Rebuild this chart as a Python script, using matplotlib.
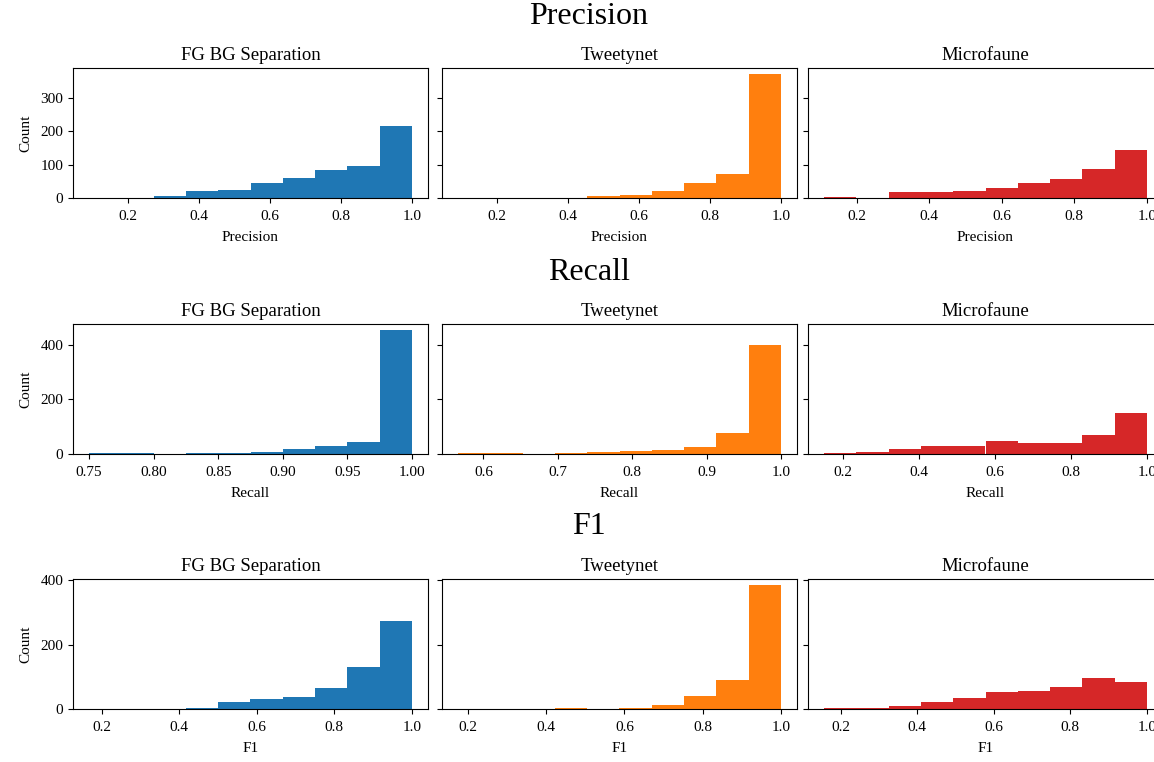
import numpy as np
import matplotlib
matplotlib.use("Agg")
import matplotlib.pyplot as plt

plt.rcParams['font.family'] = ['Liberation Serif', 'DejaVu Serif']

models = ["FG BG Separation", "Tweetynet", "Microfaune"]
colors = ["#1f77b4", "#ff7f0e", "#d62728"]
metrics = ["Precision", "Recall", "F1"]
xlabels = ["Precision", "Recall", "F1"]

# lowest observed value per model (histogram range is [low, 1.0], 10 bins)
precision_low = [0.09, 0.09, 0.11]
recall_low = [0.75, 0.566, 0.15]
f1_low = [0.168, 0.175, 0.157]

# counts per bin
precision_fgbg = [1, 0, 7, 21, 25, 46, 60, 84, 97, 215]
precision_tweety = [1, 0, 0, 0, 6, 10, 22, 46, 73, 371]
precision_micro = [4, 0, 18, 18, 22, 29, 46, 57, 86, 144]

recall_fgbg = [3, 3, 0, 3, 3, 7, 19, 29, 44, 453]
recall_tweety = [3, 3, 0, 3, 6, 10, 15, 24, 77, 400]
recall_micro = [3, 8, 18, 30, 30, 47, 39, 42, 68, 151]

f1_fgbg = [1, 0, 0, 4, 21, 30, 37, 66, 131, 275]
f1_tweety = [1, 0, 0, 4, 0, 4, 12, 40, 91, 385]
f1_micro = [3, 3, 8, 23, 33, 52, 55, 69, 97, 84]

lows = [precision_low, recall_low, f1_low]
counts = [
    [precision_fgbg, precision_tweety, precision_micro],
    [recall_fgbg, recall_tweety, recall_micro],
    [f1_fgbg, f1_tweety, f1_micro],
]

W, H = 1154, 762
fig = plt.figure(figsize=(W / 100, H / 100), dpi=100)

col_left = [73, 442, 808]
ax_w = 355
ax_h = 130
row_bottom = [198, 454, 709]
row_title_y = [17, 272, 527]

for r in range(3):
    fig.text(589 / W, 1 - row_title_y[r] / H, metrics[r], ha='center', va='center', fontsize=23)
    first = None
    for c in range(3):
        rect = [col_left[c] / W, 1 - row_bottom[r] / H, ax_w / W, ax_h / H]
        ax = fig.add_axes(rect, sharey=first)
        if first is None:
            first = ax
        edges = np.linspace(lows[r][c], 1.0, 11)
        ax.hist(edges[:-1], bins=edges, weights=counts[r][c], color=colors[c])
        ax.set_title(models[c], fontsize=13.5)
        ax.set_xlabel(xlabels[r], fontsize=11, labelpad=6)
        ax.tick_params(labelsize=11)
        ax.tick_params(axis='x', pad=5)
        if c == 0:
            ax.set_ylabel("Count", fontsize=11, labelpad=6)
        else:
            ax.tick_params(labelleft=False)

fig.savefig("out.png", dpi=100)
